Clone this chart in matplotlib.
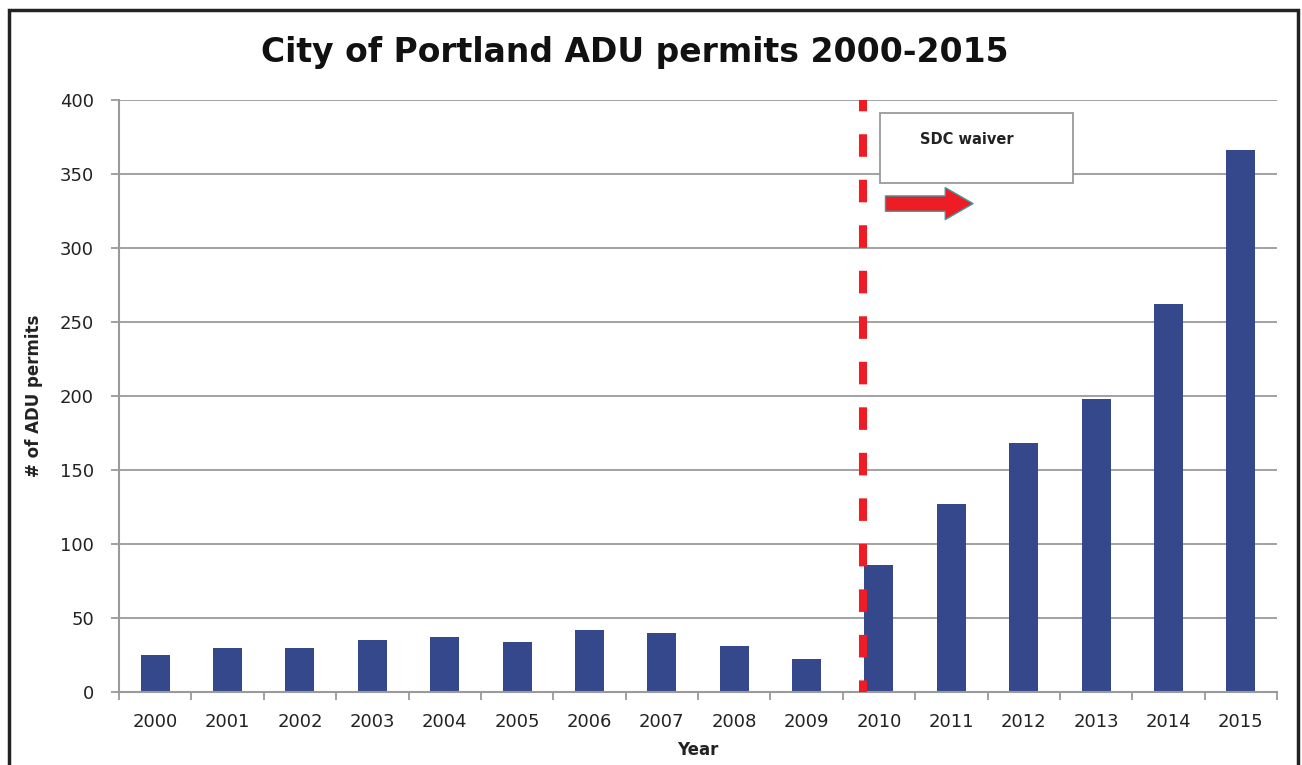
import numpy as np
import matplotlib
matplotlib.use('Agg')
import matplotlib.pyplot as plt
import matplotlib.patches as mpatches

# data
years = ['2000', '2001', '2002', '2003', '2004', '2005', '2006', '2007',
         '2008', '2009', '2010', '2011', '2012', '2013', '2014', '2015']
permits = [25, 30, 30, 35, 37, 34, 42, 40, 31, 22, 86, 127, 168, 198, 262, 366]
y_ticks = [0, 50, 100, 150, 200, 250, 300, 350, 400]

title = 'City of Portland ADU permits 2000-2015'
note = 'SDC waiver'

plt.rcParams['font.family'] = ['DejaVu Sans']
grey = '#9a9a9a'
bar_col = '#35488b'

fig = plt.figure(figsize=(13.02, 7.65), dpi=100)
ax = fig.add_axes([119/1302, 1-692/765, (1277-119)/1302, (692-100)/765])

x = np.arange(len(years))
ax.bar(x, permits, width=0.4, color=bar_col, zorder=2)

ax.set_xlim(-0.5, len(years)-0.5)
ax.set_ylim(0, 400)
ax.set_yticks(y_ticks)
ax.set_xticks(x)
ax.set_xticklabels(years, fontsize=13, color='#222222')
ax.set_xticks(np.arange(-0.5, len(years), 1), minor=True)
ax.tick_params(axis='x', which='major', length=0, pad=15)
ax.tick_params(axis='x', which='minor', length=6, width=1.3, color=grey, direction='out')
ax.tick_params(axis='y', length=6, width=1.3, color=grey, direction='out', pad=12,
               labelsize=13, labelcolor='#222222')
ax.yaxis.grid(True, color=grey, lw=1.3, zorder=0)
ax.set_axisbelow(True)
for s in ['top', 'right']:
    ax.spines[s].set_visible(False)
for s in ['left', 'bottom']:
    ax.spines[s].set_color(grey)
    ax.spines[s].set_linewidth(1.5)

ax.set_xlabel('Year', fontsize=12, fontweight='bold', labelpad=7, color='#222222')
ax.set_ylabel('# of ADU permits', fontsize=12, fontweight='bold', labelpad=12, color='#222222')

# dashed line where the waiver starts, drawn top to bottom
ax.plot([9.786, 9.786], [400, 0], color='#ee1c25', lw=5.8, linestyle=(1.4, (2.8, 2.85)),
        solid_capstyle='butt', dash_capstyle='butt', zorder=4, clip_on=False)

# note box
box = mpatches.Rectangle((10.01, 344), 2.67, 47, facecolor='white', edgecolor=grey,
                         lw=1.3, zorder=5)
ax.add_patch(box)
ax.text(11.21, 373, note, fontsize=10.5, fontweight='bold', color='#222222',
        ha='center', va='center', zorder=6)

arrow = mpatches.FancyArrowPatch((10.09, 330), (11.3, 330),
                                 arrowstyle='simple,head_length=20,head_width=23,tail_width=11',
                                 mutation_scale=1, shrinkA=0, shrinkB=0,
                                 facecolor='#ee1c25', edgecolor='#3a9a9a', lw=1, zorder=6)
ax.add_patch(arrow)

fig.text(635/1302, 1-62/765, title, fontsize=23.8, fontweight='bold', ha='center',
         va='baseline', color='#111111')

# outer frame
frame = mpatches.Rectangle((9/1302, -0.05), (1298-9)/1302, 1-10/765+0.05,
                           transform=fig.transFigure, fill=False, edgecolor='#222222',
                           lw=2.5, clip_on=False)
fig.patches.append(frame)

fig.savefig('out.png', dpi=100)
